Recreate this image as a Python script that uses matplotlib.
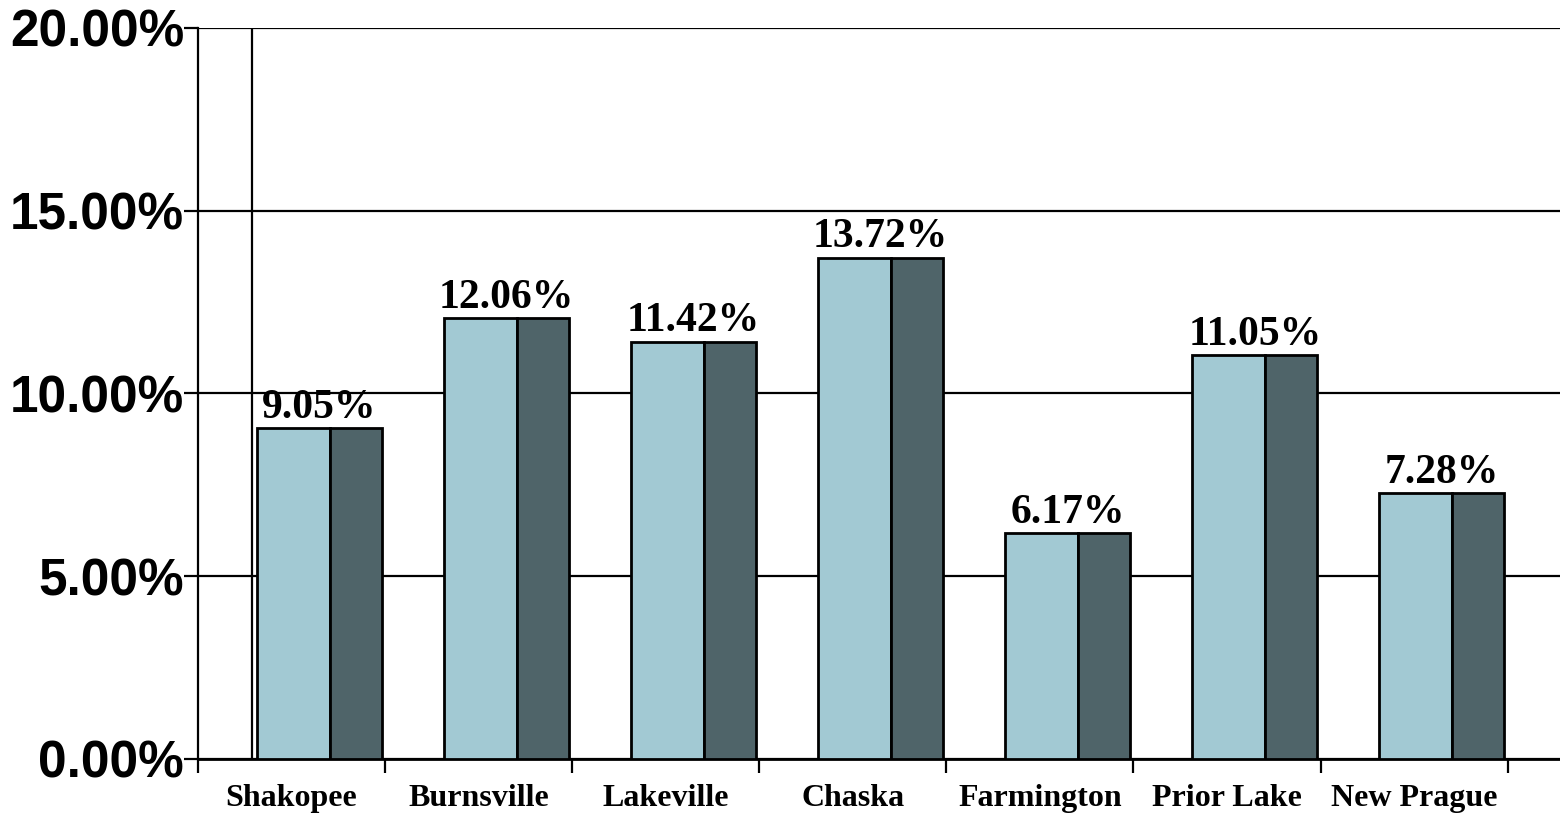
import matplotlib
matplotlib.use("Agg")
import matplotlib.pyplot as plt
import numpy as np

categories = ["Shakopee", "Burnsville", "Lakeville", "Chaska", "Farmington", "Prior Lake", "New Prague"]
values_front = [9.05, 12.06, 11.42, 13.72, 6.17, 11.05, 7.28]
values_side = [9.05, 12.06, 11.42, 13.72, 6.17, 11.05, 7.28]
labels = ["9.05%", "12.06%", "11.42%", "13.72%", "6.17%", "11.05%", "7.28%"]
yticks = [0, 5, 10, 15, 20]
ytick_labels = ["0.00%", "5.00%", "10.00%", "15.00%", "20.00%"]

light = "#A2C9D3"
dark = "#4F6469"

fig = plt.figure(figsize=(15.6, 8.16), dpi=100)
ax = fig.add_axes([198/1560, 57/816, 1 - 198/1560, (759-28)/816])

x = np.arange(len(categories))
w1 = 0.39
w2 = 0.278
off1 = -0.185
ax.bar(x + off1, values_front, width=w1, align="edge", color=light,
       edgecolor="black", linewidth=2, zorder=3)
ax.bar(x + off1 + w1, values_side, width=w2, align="edge", color=dark,
       edgecolor="black", linewidth=2, zorder=3)

for xi, v, lab in zip(x, values_front, labels):
    cx = xi + off1 + (w1 + w2) / 2
    ax.text(cx, v + 0.28, lab, ha="center", va="baseline",
            fontfamily="Liberation Serif", fontweight="bold", fontsize=30, zorder=4)

ax.set_xlim(-0.5, 6.78)
ax.set_ylim(0, 20)

ax.set_yticks(yticks)
ax.set_yticklabels(ytick_labels, fontfamily="Liberation Sans", fontweight="bold", fontsize=37)
ax.yaxis.grid(True, color="black", linewidth=1.6, zorder=1)
ax.tick_params(axis="y", direction="out", length=10, width=1.6, pad=0)

ax.set_xticks(x)
ax.set_xticklabels(categories, fontfamily="Liberation Serif", fontweight="bold", fontsize=23)
ax.set_xticks(np.arange(-0.5, 7, 1), minor=True)
ax.tick_params(axis="x", which="major", length=0, pad=18)
ax.tick_params(axis="x", which="minor", direction="out", length=10, width=1.6)

ax.axvline(x=-0.211, color="black", linewidth=1.6, zorder=2)

for s in ["top", "right"]:
    ax.spines[s].set_visible(False)
ax.spines["left"].set_linewidth(1.6)
ax.spines["bottom"].set_linewidth(2)

fig.savefig("out.png", dpi=100)
